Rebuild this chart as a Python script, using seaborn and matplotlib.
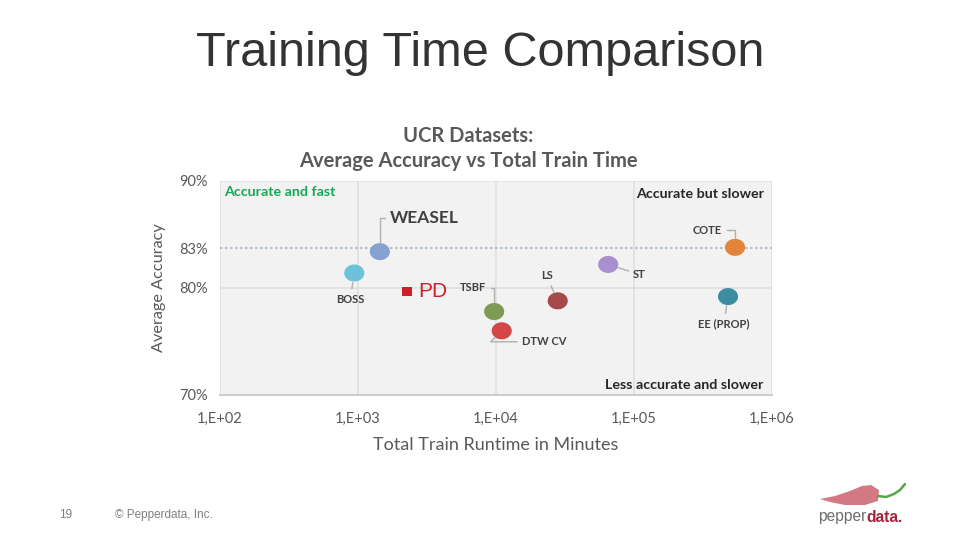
import matplotlib.pyplot as plt
import numpy as np
import pandas as pd
import seaborn as sb
from matplotlib.patches import Polygon
from matplotlib.lines import Line2D

# data
methods = ["BOSS", "WEASEL", "TSBF", "DTW CV", "LS", "ST", "COTE", "EE (PROP)"]
train_minutes = [940, 1440, 9700, 11000, 28000, 65000, 540000, 480000]
accuracy = [81.4, 83.4, 77.8, 76.0, 78.8, 82.2, 83.8, 79.2]
colors = ["#6dc1d9", "#84a3d2", "#7f9a55", "#d24848", "#a64a4a", "#a88fd0", "#e4843a", "#3d8da2"]

pd_minutes = [2260]
pd_accuracy = [79.7]

ref_line = 83.7
ytick_vals = [70, 80, ref_line, 90]
ytick_labels = ["70%", "80%", "83%", "90%"]
xtick_vals = [1e2, 1e3, 1e4, 1e5, 1e6]
xtick_labels = ["1,E+02", "1,E+03", "1,E+04", "1,E+05", "1,E+06"]

# label offsets in pixels (dx, dy), alignment, connection style
label_pos = {
    "BOSS": (-4, -26, "center", "arc3"),
    "WEASEL": (10, 34, "left", "angle,angleA=0,angleB=90,rad=0"),
    "TSBF": (-8, 24, "right", "angle,angleA=0,angleB=90,rad=0"),
    "DTW CV": (20, -11, "left", "angle,angleA=0,angleB=45,rad=0"),
    "LS": (-11, 25, "center", "arc3"),
    "ST": (25, -10, "left", "arc3"),
    "COTE": (-13, 17, "right", "angle,angleA=0,angleB=90,rad=0"),
    "EE (PROP)": (-4, -27, "center", "arc3"),
}

df = pd.DataFrame({"method": methods, "minutes": train_minutes, "acc": accuracy})

sb.set_style("white")
plt.rcParams["font.family"] = ["Lato", "DejaVu Sans"]

# slightly wide ellipse marker like the original chart
t = np.linspace(0, 2 * np.pi, 40)
ellipse = list(zip(1.18 * np.cos(t), np.sin(t)))

fig = plt.figure(figsize=(9.6, 5.4), dpi=100)
ax = fig.add_axes([220 / 960, 1 - 395 / 540, 552 / 960, 214 / 540])
ax.set_facecolor("#f2f2f2")

ax.set_xscale("log")
ax.set_xlim(1e2, 1e6)
ax.set_ylim(70, 90)

for v in xtick_vals:
    ax.axvline(v, color="#dedede", lw=1.1, zorder=0)
ax.axhline(80, color="#dedede", lw=1.1, zorder=0)
ax.axhline(90, color="#dedede", lw=1.1, zorder=0)
ax.axhline(ref_line, color="#a3b5cb", lw=1.2, ls=(0, (1.5, 1.5)), zorder=1)

sb.scatterplot(data=df, x="minutes", y="acc", hue="method", palette=colors,
               marker=ellipse, s=210, edgecolor="none", legend=False, ax=ax, zorder=3)
sb.scatterplot(x=pd_minutes, y=pd_accuracy, marker="s", color="#cc1f2a",
               s=45, edgecolor="none", legend=False, ax=ax, zorder=3)

for m, x, y in zip(methods, train_minutes, accuracy):
    dx, dy, ha, cs = label_pos[m]
    big = m == "WEASEL"
    ax.annotate(m, xy=(x, y), xytext=(dx, dy), textcoords="offset pixels",
                ha=ha, va="center", fontsize=12.5 if big else 8, fontweight="bold",
                color="#404040",
                arrowprops=dict(arrowstyle="-", color="#b0b0b0", lw=1,
                                connectionstyle=cs, shrinkA=1, shrinkB=7))
ax.annotate("PD", xy=(pd_minutes[0], pd_accuracy[0]), xytext=(11, 0),
            textcoords="offset pixels", ha="left", va="center",
            fontsize=15, color="#cc1f2a", family="Liberation Sans")

ax.text(0.008, 0.95, "Accurate and fast", transform=ax.transAxes, ha="left", va="center",
        fontsize=10.3, fontweight="bold", color="#1aa654")
ax.text(0.985, 0.94, "Accurate but slower", transform=ax.transAxes, ha="right", va="center",
        fontsize=10.3, fontweight="bold", color="#262626")
ax.text(0.985, 0.045, "Less accurate and slower", transform=ax.transAxes, ha="right", va="center",
        fontsize=10.3, fontweight="bold", color="#262626")

ax.set_xticks(xtick_vals)
ax.set_xticklabels(xtick_labels, fontsize=10.5, color="#595959")
ax.minorticks_off()
ax.set_yticks(ytick_vals)
ax.set_yticklabels(ytick_labels, fontsize=10.5, color="#595959")
ax.tick_params(axis="x", length=0, pad=12)
ax.tick_params(axis="y", length=5, color="#dedede", pad=4)
for s in ["top", "right", "left"]:
    ax.spines[s].set_visible(False)
ax.spines["bottom"].set_color("#c8c8c8")
ax.spines["bottom"].set_linewidth(1.3)

ax.set_xlabel("Total Train Runtime in Minutes", fontsize=13, color="#595959", labelpad=8)
ax.set_ylabel("Average Accuracy", fontsize=11.7, color="#595959", labelpad=9)

fig.text(468 / 960, 1 - 136 / 540, "UCR Datasets:", ha="center", va="center",
         fontsize=14.5, fontweight="bold", color="#595959")
fig.text(468 / 960, 1 - 161 / 540, "Average Accuracy vs Total Train Time", ha="center",
         va="center", fontsize=14.5, fontweight="bold", color="#595959")

# slide text
fig.text(480 / 960, 1 - 54 / 540, "Training Time Comparison", ha="center", va="center",
         fontsize=35, color="#333333", family="Liberation Sans")
fig.text(66 / 960, 1 - 515 / 540, "19", ha="center", va="center", fontsize=8.5,
         color="#7f7f7f", family="Liberation Sans")
fig.text(115 / 960, 1 - 515 / 540, "© Pepperdata, Inc.", ha="left", va="center",
         fontsize=8.5, color="#7f7f7f", family="Liberation Sans")

# logo: pepper shape + word mark
shape = [(820, 499), (835, 496), (850, 491), (862, 486), (871, 485), (879, 490),
         (878, 501), (865, 505), (845, 505), (830, 502)]
pepper = Polygon([(x, 540 - y) for x, y in shape], closed=True, transform=None,
                 facecolor="#c04050", edgecolor="none", alpha=0.7)
fig.add_artist(pepper)
stem_x = [878, 886, 894, 900, 905]
stem_y = [496, 497, 494, 490, 484]
fig.add_artist(Line2D([x / 960 for x in stem_x], [1 - y / 540 for y in stem_y],
                      transform=fig.transFigure, color="#5aa54a", lw=1.8))

word1 = fig.text(818 / 960, 1 - 517 / 540, "pepper", ha="left", va="center", fontsize=11.2,
                 color="#6d6d6d", family="Liberation Sans")
r = fig.canvas.get_renderer()
bb = word1.get_window_extent(renderer=r)
fig.text(bb.x1 / 960, 1 - 517 / 540, "data.", ha="left", va="center", fontsize=11.2,
         fontweight="bold", color="#a3223a", family="Liberation Sans")

fig.savefig("out.png", dpi=100)
